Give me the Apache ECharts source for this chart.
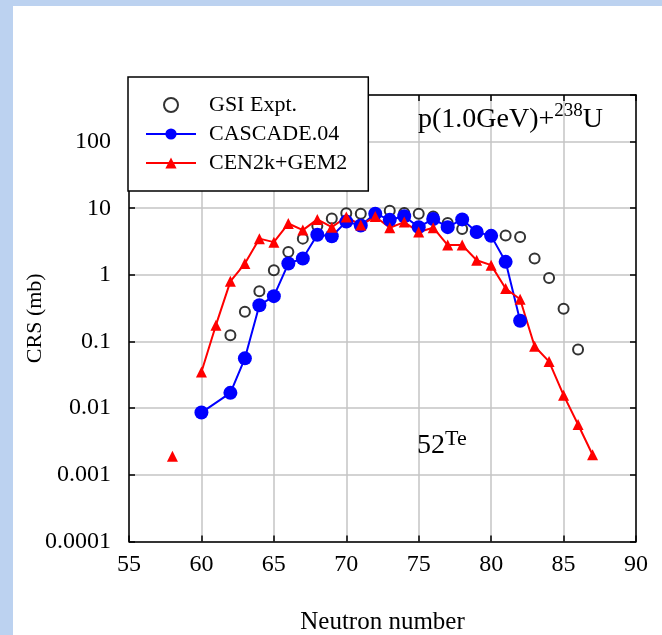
<!DOCTYPE html>
<html>
<head>
<meta charset="utf-8">
<script src="https://cdn.jsdelivr.net/npm/echarts@6/dist/echarts.min.js"></script>
<style>
  html, body { margin: 0; padding: 0; }
  body { width: 662px; height: 635px; background: #bcd2f0; position: relative; overflow: hidden; }
  #sheet { position: absolute; left: 13px; top: 6px; right: 0; bottom: 0; background: #ffffff; }
  #chart { position: absolute; left: 0; top: 0; width: 662px; height: 635px; }
</style>
</head>
<body>
<div id="sheet"></div>
<div id="chart"></div>
<script>
// Isotopic cross sections of Te (Z=52) from p(1.0 GeV) + 238U
var gsiN = [62, 63, 64, 65, 66, 67, 68, 69, 70, 71, 72, 73, 74, 75, 76, 77, 78, 79, 80, 81, 82, 83, 84, 85, 86];
var gsiV = [0.124, 0.28, 0.57, 1.17, 2.2, 3.5, 5.4, 7.0, 8.4, 8.3, 8.0, 9.2, 8.5, 8.3, 7.5, 6.0, 4.9, 4.3, 3.9, 3.9, 3.7, 1.76, 0.90, 0.31, 0.076];

var cascadeN = [60, 62, 63, 64, 65, 66, 67, 68, 69, 70, 71, 72, 73, 74, 75, 76, 77, 78, 79, 80, 81, 82];
var cascadeV = [0.0086, 0.017, 0.056, 0.35, 0.48, 1.48, 1.76, 4.0, 3.8, 6.3, 5.5, 8.3, 6.7, 7.6, 5.2, 6.9, 5.2, 6.8, 4.4, 3.85, 1.57, 0.205];

var cenN = [58, 59, 60, 61, 62, 63, 64, 65, 66, 67, 68, 69, 70, 71, 72, 73, 74, 75, 76, 77, 78, 79, 80, 81, 82, 83, 84, 85, 86, 87];
var cenV = [0.0019, null, 0.035, 0.176, 0.80, 1.48, 3.5, 3.1, 5.9, 4.7, 6.8, 5.2, 7.4, 5.6, 7.5, 5.1, 6.2, 4.4, 5.1, 2.8, 2.8, 1.66, 1.4, 0.625, 0.43, 0.085, 0.050, 0.0157, 0.0057, 0.0020];

var xTicks = [55, 60, 65, 70, 75, 80, 85, 90];
var yTickLabels = ['0.0001', '0.001', '0.01', '0.1', '1', '10', '100'];

var seriesNames = ['GSI Expt.', 'CASCADE.04', 'CEN2k+GEM2'];

var FONT = "'Liberation Serif', 'Times New Roman', serif";

function pairs(xs, ys) {
  return xs.map(function (x, i) { return [x, ys[i] == null ? '-' : ys[i]]; });
}

function yLabel(v) {
  var e = Math.round(Math.log10(v));
  var idx = e + 4;
  return (Math.abs(Math.log10(v) - e) < 1e-6 && idx >= 0 && idx < yTickLabels.length) ? yTickLabels[idx] : '';
}

var chart = echarts.init(document.getElementById('chart'), null, { renderer: 'canvas' });

var axisLine = { show: true, lineStyle: { color: '#000', width: 1.5 } };
var axisTick = { show: true, inside: true, length: 6, lineStyle: { color: '#000', width: 1.5 } };
var grid = { show: true, lineStyle: { color: '#c4c4c4', width: 1.5 } };

chart.setOption({
  animation: false,
  backgroundColor: 'transparent',
  textStyle: { fontFamily: FONT },
  grid: { left: 129, top: 95, right: 26, bottom: 93.5, outerBoundsMode: 'none' },
  legend: {
    data: seriesNames,
    orient: 'vertical',
    left: 128,
    top: 77,
    padding: [17, 21, 17, 17],
    itemGap: 7,
    itemWidth: 50,
    itemHeight: 14,
    backgroundColor: '#fff',
    borderColor: '#000',
    borderWidth: 1.5,
    z: 20,
    textStyle: { fontFamily: FONT, fontSize: 22, color: '#000', lineHeight: 22, padding: [0, 0, 0, 8] }
  },
  xAxis: [{
    type: 'value', min: xTicks[0], max: xTicks[xTicks.length - 1], interval: 5,
    position: 'bottom',
    name: 'Neutron number', nameLocation: 'middle', nameGap: 68, nameMoveOverlap: false,
    nameTextStyle: { fontFamily: FONT, fontSize: 25, color: '#000' },
    axisLine: axisLine, axisTick: axisTick, splitLine: grid,
    axisLabel: { fontFamily: FONT, fontSize: 24, color: '#000', margin: 11 }
  }, {
    type: 'value', min: xTicks[0], max: xTicks[xTicks.length - 1], interval: 5,
    position: 'top',
    axisLine: axisLine, axisTick: axisTick, splitLine: { show: false },
    axisLabel: { show: false }
  }],
  yAxis: [{
    type: 'log', logBase: 10, min: 0.0001, max: 500, splitNumber: 7,
    position: 'left',
    name: 'CRS (mb)', nameLocation: 'middle', nameGap: 83, nameRotate: 90, nameMoveOverlap: false,
    nameTextStyle: { fontFamily: FONT, fontSize: 22, color: '#000' },
    axisLine: axisLine, axisTick: axisTick, splitLine: grid,
    axisLabel: { fontFamily: FONT, fontSize: 24, color: '#000', margin: 18, showMaxLabel: false, formatter: yLabel }
  }, {
    type: 'log', logBase: 10, min: 0.0001, max: 500, splitNumber: 7,
    position: 'right',
    axisLine: axisLine, axisTick: axisTick, splitLine: { show: false },
    axisLabel: { show: false }
  }],
  graphic: [{
    type: 'text', left: 418, top: 102, z: 30,
    style: {
      text: '{a|p(1.0GeV)+}{s|238}{a|U}',
      rich: {
        a: { fontFamily: FONT, fontSize: 28, lineHeight: 32, verticalAlign: 'bottom', fill: '#000' },
        s: { fontFamily: FONT, fontSize: 19, lineHeight: 19, verticalAlign: 'top', fill: '#000' }
      }
    }
  }, {
    type: 'text', left: 417, top: 428, z: 30,
    style: {
      text: '{a|52}{s|Te}',
      rich: {
        a: { fontFamily: FONT, fontSize: 28, lineHeight: 32, verticalAlign: 'bottom', fill: '#000' },
        s: { fontFamily: FONT, fontSize: 22, lineHeight: 22, verticalAlign: 'top', fill: '#000' }
      }
    }
  }],
  series: [{
    name: seriesNames[0],
    type: 'scatter',
    symbol: 'emptyCircle',
    symbolSize: 10,
    itemStyle: { color: '#000', borderColor: '#000', borderWidth: 2 },
    data: pairs(gsiN, gsiV)
  }, {
    name: seriesNames[1],
    type: 'line',
    symbol: 'circle',
    symbolSize: 14,
    showAllSymbol: true,
    itemStyle: { color: '#0000ff' },
    lineStyle: { color: '#0000ff', width: 2 },
    data: pairs(cascadeN, cascadeV)
  }, {
    name: seriesNames[2],
    type: 'line',
    symbol: 'triangle',
    symbolSize: 11,
    showAllSymbol: true,
    connectNulls: false,
    itemStyle: { color: '#ff0000' },
    lineStyle: { color: '#ff0000', width: 2 },
    data: pairs(cenN, cenV)
  }]
});
</script>
</body>
</html>
